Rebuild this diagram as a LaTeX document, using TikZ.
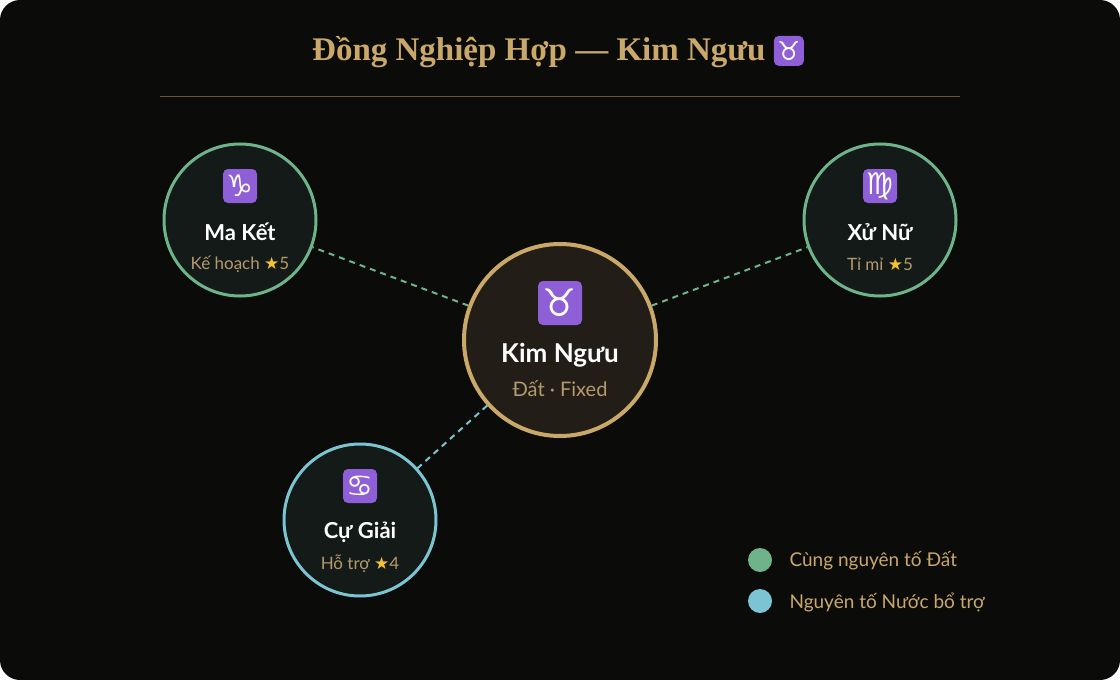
\documentclass[tikz,border=0pt]{standalone}
\usepackage{fontspec}
\setmainfont{Lato}
\newfontfamily\titlefont{Liberation Serif}
\newfontfamily\symfont{DejaVu Sans}
\usetikzlibrary{positioning}
\definecolor{bg}{HTML}{0B0B09}
\definecolor{gold}{HTML}{C9A86A}
\definecolor{subtxt}{HTML}{B59A6E}
\definecolor{grn}{HTML}{6FB38A}
\definecolor{blu}{HTML}{7CC4D3}
\definecolor{sat}{HTML}{131A17}
\definecolor{ctr}{HTML}{221D16}
\definecolor{purp}{HTML}{8E5FD6}
\definecolor{star}{HTML}{F2C230}
\tikzset{
  zod/.style={fill=purp,rounded corners=5pt,minimum size=34pt,inner sep=0pt,text=white,font=\symfont\fontsize{30}{30}\selectfont},
  satn/.style={circle,minimum size=152pt,line width=3pt,fill=sat},
  nm/.style={text=white,font=\bfseries\fontsize{22}{22}\selectfont},
  sb/.style={text=subtxt,font=\fontsize{17}{17}\selectfont},
  lnk/.style={dashed,line width=2pt,dash pattern=on 6pt off 5pt},
}
\begin{document}
\begin{tikzpicture}[x=1pt,y=-1pt]
\useasboundingbox (0,0) rectangle (1120,680);
\fill[bg,rounded corners=20pt] (0,0) rectangle (1120,680);
\node (title) at (558,52) {\titlefont\bfseries\fontsize{33}{33}\selectfont\color{gold}Đồng Nghiệp Hợp — Kim Ngưu \tikz[baseline=-10pt]\node[zod,minimum size=30pt,font=\symfont\fontsize{26}{26}\selectfont]{♉};};
\draw[color=gold!50!black,line width=1pt] (160,96) -- (960,96);
% satellites
\node[satn,draw=grn] (mk) at (240,220) {};
\node[satn,draw=grn] (xn) at (880,220) {};
\node[satn,draw=blu] (cg) at (360,520) {};
\node[circle,minimum size=192pt,line width=4pt,draw=gold,fill=ctr] (c) at (560,340) {};
\draw[lnk,grn] (c) -- (mk);
\draw[lnk,grn] (c) -- (xn);
\draw[lnk,blu] (c) -- (cg);
% center content
\node[zod,minimum size=44pt,font=\symfont\fontsize{38}{38}\selectfont] (cz) at (560,303) {♉};
\node[nm,font=\bfseries\fontsize{26}{26}\selectfont] (cn) at (560,355) {Kim Ngưu};
\node[sb,font=\fontsize{20}{20}\selectfont] (cs) at (560,389) {Đất · Fixed};
% Ma Ket
\node[zod] (mkz) at (240,186) {♑};
\node[nm] (mkn) at (240,232) {Ma Kết};
\node[sb] (mks) at (240,264) {Kế hoạch {\symfont\color{star}★}5};
% Xu Nu
\node[zod] (xnz) at (880,186) {♍};
\node[nm] (xnn) at (880,232) {Xử Nữ};
\node[sb] (xns) at (880,264) {Tỉ mỉ {\symfont\color{star}★}5};
% Cu Giai
\node[zod] (cgz) at (360,486) {♋};
\node[nm] (cgn) at (360,532) {Cự Giải};
\node[sb] (cgs) at (360,564) {Hỗ trợ {\symfont\color{star}★}4};
% legend
\node[circle,fill=grn,minimum size=24pt,inner sep=0pt] (l1) at (760,560) {};
\node[circle,fill=blu,minimum size=24pt,inner sep=0pt] (l2) at (760,601) {};
\node[sb,anchor=west,text=gold,font=\fontsize{19}{19}\selectfont] (t1) at (786,561) {Cùng nguyên tố Đất};
\node[sb,anchor=west,text=gold,font=\fontsize{19}{19}\selectfont] (t2) at (786,602) {Nguyên tố Nước bổ trợ};
\end{tikzpicture}
\end{document}
